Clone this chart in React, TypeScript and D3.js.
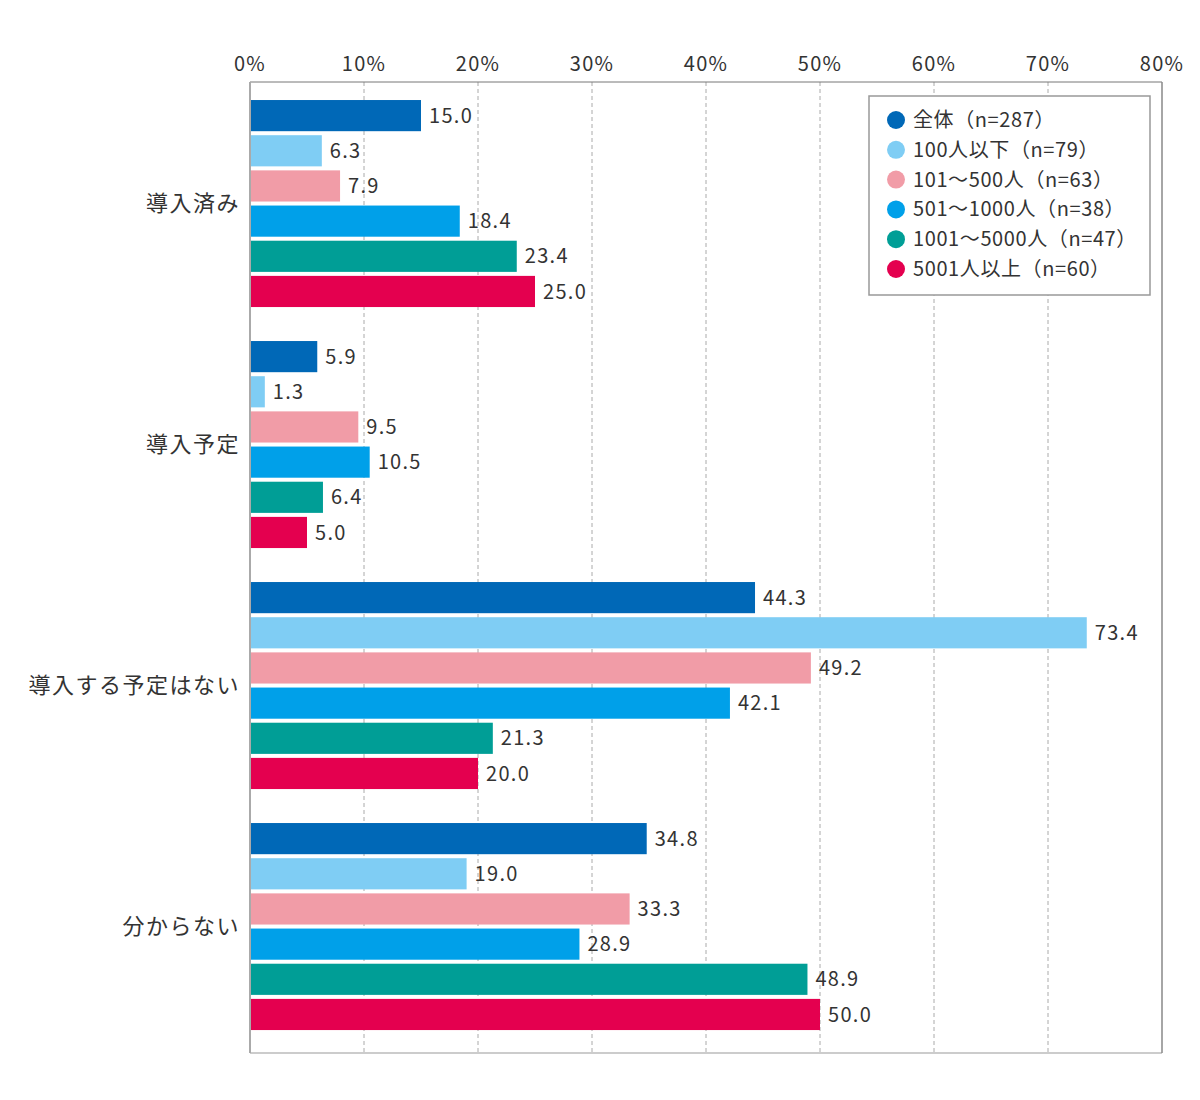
import React, { useRef, useEffect } from 'react';
import * as d3 from 'd3';

const categories = ['導入済み', '導入予定', '導入する予定はない', '分からない'];

const seriesNames = [
  '全体（n=287）',
  '100人以下（n=79）',
  '101～500人（n=63）',
  '501～1000人（n=38）',
  '1001～5000人（n=47）',
  '5001人以上（n=60）',
];

const seriesColors = ['#0068b7', '#7fcdf4', '#f19ca7', '#00a0e9', '#009e96', '#e4004f'];

// one array per series, ordered as categories
const zentai = [15.0, 5.9, 44.3, 34.8];
const under100 = [6.3, 1.3, 73.4, 19.0];
const s101to500 = [7.9, 9.5, 49.2, 33.3];
const s501to1000 = [18.4, 10.5, 42.1, 28.9];
const s1001to5000 = [23.4, 6.4, 21.3, 48.9];
const over5001 = [25.0, 5.0, 20.0, 50.0];

const seriesValues = [zentai, under100, s101to500, s501to1000, s1001to5000, over5001];

const xTicks = [0, 10, 20, 30, 40, 50, 60, 70, 80];

const FONT = '"Noto Sans CJK JP", "Noto Sans", sans-serif';

const App: React.FC = () => {
  const svgRef = useRef<SVGSVGElement>(null);

  useEffect(() => {
    if (!svgRef.current) return;
    const width = 1200;
    const height = 1100;
    const plot = { left: 250, right: 1162, top: 82, bottom: 1053 };

    const svg = d3.select(svgRef.current).attr('width', width).attr('height', height);
    svg.selectAll('*').remove();

    const x = d3.scaleLinear().domain([0, 80]).range([plot.left, plot.right]);

    const y0 = d3
      .scaleBand<string>()
      .domain(categories)
      .range([plot.top, plot.bottom])
      .paddingInner(0.141)
      .paddingOuter(0.085)
      .align(0.44);

    const y1 = d3
      .scaleBand<number>()
      .domain(d3.range(seriesNames.length))
      .range([0, y0.bandwidth()])
      .paddingInner(0.114);

    // gridlines (dashed)
    svg
      .append('g')
      .selectAll('line')
      .data(xTicks.filter((t) => t > 0 && t < 80))
      .enter()
      .append('line')
      .attr('x1', (d) => x(d))
      .attr('x2', (d) => x(d))
      .attr('y1', plot.top)
      .attr('y2', plot.bottom)
      .attr('stroke', '#aaaaaa')
      .attr('stroke-width', 1)
      .attr('stroke-dasharray', '4,3');

    // frame
    svg
      .append('line')
      .attr('x1', plot.left)
      .attr('x2', plot.right)
      .attr('y1', plot.bottom)
      .attr('y2', plot.bottom)
      .attr('stroke', '#cccccc')
      .attr('stroke-width', 2);
    svg
      .append('line')
      .attr('x1', plot.left)
      .attr('x2', plot.right)
      .attr('y1', plot.top)
      .attr('y2', plot.top)
      .attr('stroke', '#777777')
      .attr('stroke-width', 1);
    svg
      .append('line')
      .attr('x1', plot.right)
      .attr('x2', plot.right)
      .attr('y1', plot.top)
      .attr('y2', plot.bottom)
      .attr('stroke', '#888888')
      .attr('stroke-width', 1.5);
    svg
      .append('line')
      .attr('x1', plot.left)
      .attr('x2', plot.left)
      .attr('y1', plot.top)
      .attr('y2', plot.bottom)
      .attr('stroke', '#aaaaaa')
      .attr('stroke-width', 2);

    // tick labels on top
    svg
      .append('g')
      .selectAll('text')
      .data(xTicks)
      .enter()
      .append('text')
      .attr('x', (d) => x(d))
      .attr('y', 71)
      .attr('text-anchor', 'middle')
      .attr('font-family', FONT)
      .attr('font-size', '20px')
      .attr('letter-spacing', '1.3px')
      .attr('fill', '#333333')
      .text((d) => `${d}%`);

    // category labels
    svg
      .append('g')
      .selectAll('text')
      .data(categories)
      .enter()
      .append('text')
      .attr('x', 240)
      .attr('y', (d) => (y0(d) as number) + y0.bandwidth() / 2)
      .attr('dy', '0.35em')
      .attr('text-anchor', 'end')
      .attr('font-family', FONT)
      .attr('font-size', '22px')
      .attr('letter-spacing', '1.5px')
      .attr('fill', '#333333')
      .text((d) => d);

    // bars
    const groups = svg
      .append('g')
      .selectAll('g')
      .data(categories)
      .enter()
      .append('g')
      .attr('transform', (d) => `translate(0, ${y0(d)})`);

    const cells = groups
      .selectAll('g')
      .data((_, ci) => seriesValues.map((vals, si) => ({ si, value: vals[ci] })))
      .enter()
      .append('g');

    cells
      .append('rect')
      .attr('x', plot.left + 1)
      .attr('y', (d) => y1(d.si) as number)
      .attr('width', (d) => x(d.value) - plot.left - 1)
      .attr('height', y1.bandwidth())
      .attr('fill', (d) => seriesColors[d.si]);

    cells
      .append('text')
      .attr('x', (d) => x(d.value) + 8)
      .attr('y', (d) => (y1(d.si) as number) + y1.bandwidth() / 2)
      .attr('dy', '0.36em')
      .attr('font-family', FONT)
      .attr('font-size', '20px')
      .attr('letter-spacing', '1.3px')
      .attr('fill', '#333333')
      .text((d) => d.value.toFixed(1));

    // legend
    const legend = svg.append('g').attr('transform', 'translate(869, 96)');
    legend
      .append('rect')
      .attr('width', 281)
      .attr('height', 199)
      .attr('fill', '#ffffff')
      .attr('stroke', '#999999')
      .attr('stroke-width', 1.5);

    const items = legend
      .selectAll('.legend-item')
      .data(seriesNames)
      .enter()
      .append('g')
      .attr('class', 'legend-item')
      .attr('transform', (_, i) => `translate(0, ${24 + i * 29.8})`);

    items
      .append('circle')
      .attr('cx', 27)
      .attr('cy', 0)
      .attr('r', 9)
      .attr('fill', (_, i) => seriesColors[i]);

    items
      .append('text')
      .attr('x', 44)
      .attr('y', 0)
      .attr('dy', '0.35em')
      .attr('font-family', FONT)
      .attr('font-size', '20px')
      .attr('letter-spacing', '0.6px')
      .attr('fill', '#333333')
      .text((d) => d);
  }, []);

  return (
    <div style={{ position: 'absolute', left: 0, top: 0 }}>
      <svg ref={svgRef} />
    </div>
  );
};

export default App;
